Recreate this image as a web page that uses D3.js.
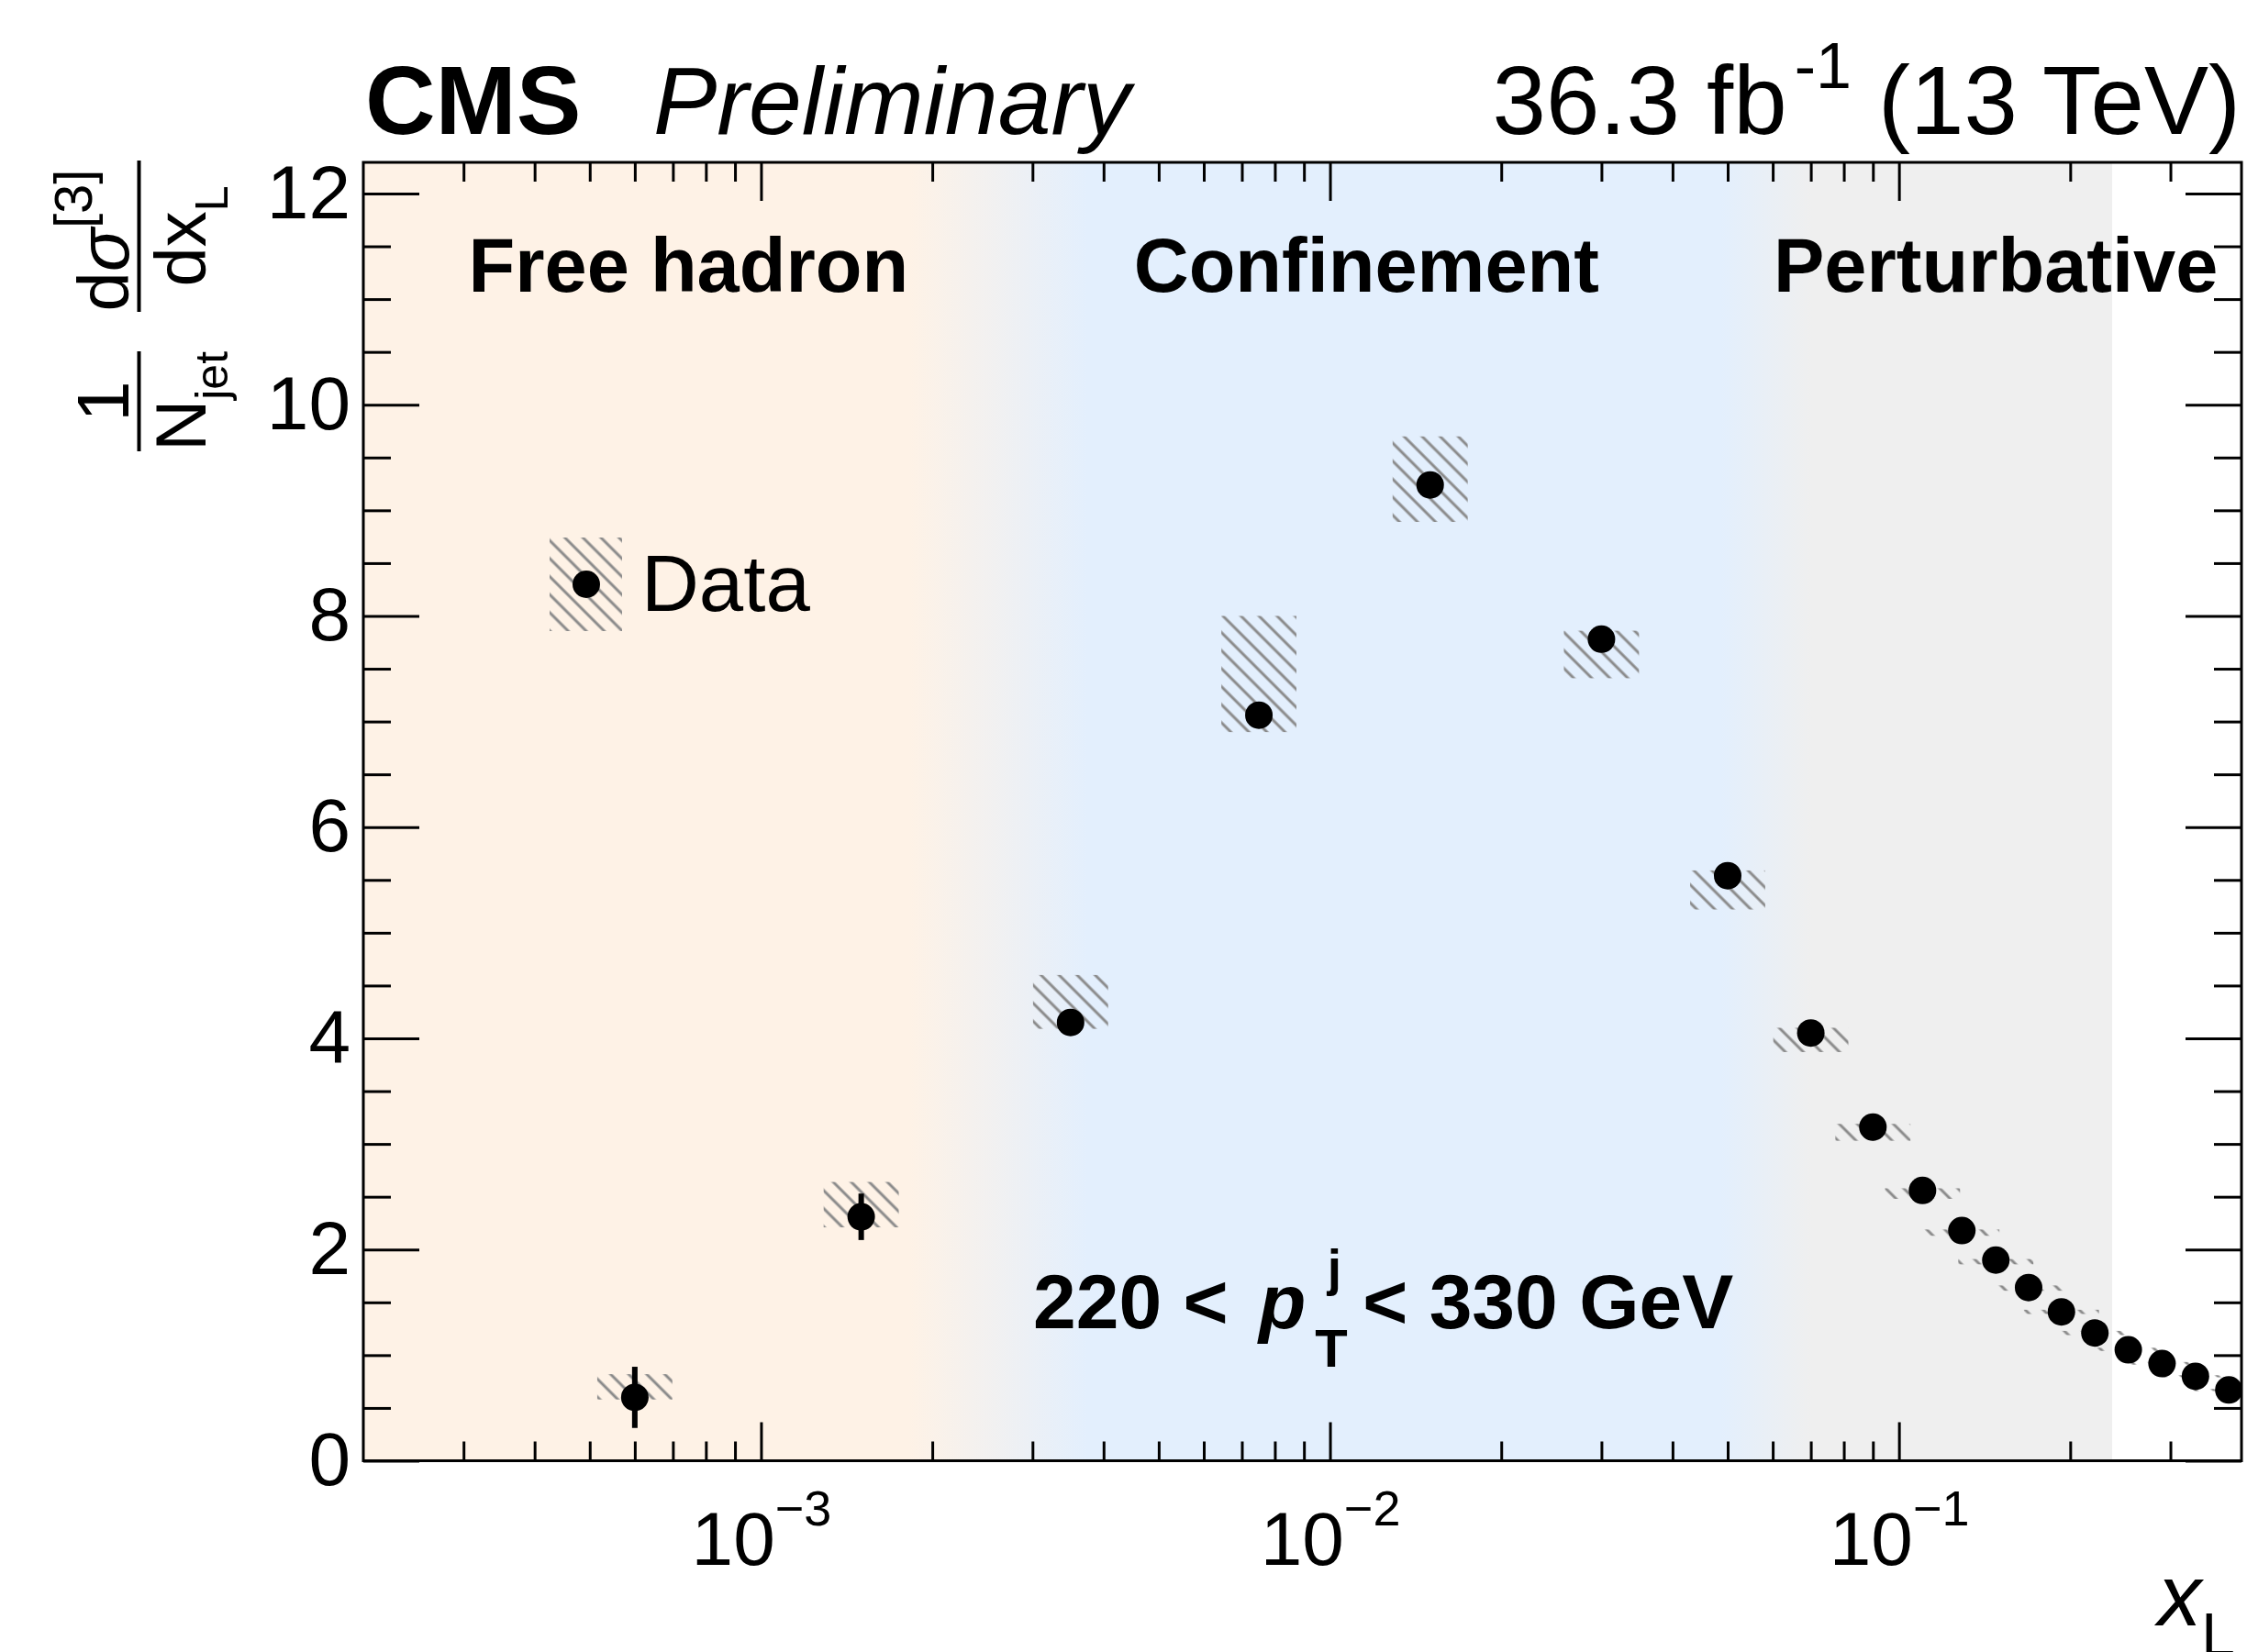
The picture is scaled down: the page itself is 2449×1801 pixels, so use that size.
<!DOCTYPE html>
<html lang="en">
<head>
<meta charset="UTF-8">
<title>CMS xL distribution</title>
<script src="https://cdn.jsdelivr.net/npm/d3@7"></script>
<style>
  body { margin: 0; background: #fff; }
  svg { display: block; font-family: "Liberation Sans", Arial, Helvetica, sans-serif; }
</style>
</head>
<body>
<div id="chart"></div>
<script>
// ---- data ----
var xL      = [6e-4, 1.5e-3, 3.5e-3, 7.5e-3, 0.015, 0.030, 0.050, 0.070, 0.090, 0.110, 0.129, 0.148, 0.169, 0.193, 0.221, 0.253, 0.290, 0.332, 0.380];
var dsigma  = [0.60, 2.31, 4.15, 7.06, 9.24, 7.78, 5.54, 4.05, 3.16, 2.56, 2.18, 1.90, 1.64, 1.41, 1.21, 1.05, 0.92, 0.80, 0.67];
var statErr = [0.29, 0.22, 0.06, 0.06, 0.06, 0.05, 0.04, 0.04, 0.03, 0.03, 0.03, 0.02, 0.02, 0.02, 0.02, 0.02, 0.02, 0.02, 0.02];
var systLo  = [0.58, 2.21, 4.09, 6.90, 8.89, 7.41, 5.22, 3.87, 3.03, 2.48, 2.13, 1.86, 1.61, 1.39, 1.19, 1.04, 0.91, 0.79, 0.66];
var systHi  = [0.82, 2.64, 4.60, 8.00, 9.70, 7.86, 5.59, 4.10, 3.19, 2.58, 2.19, 1.91, 1.66, 1.43, 1.23, 1.07, 0.935, 0.81, 0.68];

var xDomain = [2e-4, 0.4];
var yDomain = [0, 12.295];
var yMajorTicks = [0, 2, 4, 6, 8, 10, 12];
var xMajorTicks = [1e-3, 1e-2, 1e-1];
var xTickExp = ["\u22123", "\u22122", "\u22121"];

// region boundaries in xL: peach ends, blue starts, blue ends, grey starts, grey ends
var regionEdges = [1.82e-3, 3.75e-3, 0.0485, 0.0703, 0.237];
var regionNames = ["Free hadron", "Confinement", "Perturbative"];
var regionLabelX = [3.06e-4, 4.52e-3, 0.0602];

// ---- layout ----
var W = 2449, H = 1801;
var padL = 396, padR = 2443, padT = 177, padB = 1592.5;
var width = padR - padL, height = padB - padT;

var svg = d3.select("#chart").append("svg")
    .attr("width", W)
    .attr("height", H);

var x = d3.scaleLog().domain(xDomain).range([0, width]);
var y = d3.scaleLinear().domain(yDomain).range([height, 0]);

var defs = svg.append("defs");

// hatch for systematic boxes
var pat = defs.append("pattern")
    .attr("id", "hatch")
    .attr("patternUnits", "userSpaceOnUse")
    .attr("width", 13.9).attr("height", 13.9)
    .attr("patternTransform", "rotate(-45)");
pat.append("line")
    .attr("x1", 7).attr("y1", 0).attr("x2", 7).attr("y2", 13.9)
    .attr("stroke", "#8a8a8a").attr("stroke-width", 3);

var g = svg.append("g").attr("transform", "translate(" + padL + "," + padT + ")");

// background regions, one gradient
var peach = "#fef2e6", blue = "#e3effd", grey = "#efefef";
var gEnd = x(regionEdges[4]);
var grad = defs.append("linearGradient")
    .attr("id", "regions")
    .attr("gradientUnits", "userSpaceOnUse")
    .attr("x1", 0).attr("x2", gEnd).attr("y1", 0).attr("y2", 0);
var stops = [[0, peach], [x(regionEdges[0]), peach], [x(regionEdges[1]), blue],
             [x(regionEdges[2]), blue], [x(regionEdges[3]), grey], [gEnd, grey]];
stops.forEach(function (s) {
    grad.append("stop").attr("offset", s[0] / gEnd).attr("stop-color", s[1]);
});
g.append("rect")
    .attr("x", 0).attr("y", 0)
    .attr("width", gEnd).attr("height", height)
    .style("fill", "url(#regions)");

// region labels
g.selectAll(".region")
    .data(regionNames)
    .enter().append("text")
    .attr("class", "region")
    .attr("x", function (d, i) { return x(regionLabelX[i]); })
    .attr("y", y(11.07))
    .attr("font-size", 83)
    .attr("font-weight", "bold")
    .text(function (d) { return d; });

// ---- axes ----
function minorLog() {
    var v = [];
    for (var e = -4; e <= -1; e++) {
        for (var m = 2; m <= 9; m++) {
            var t = m * Math.pow(10, e);
            if (t > xDomain[0] * 1.001 && t < xDomain[1] * 0.999) v.push(t);
        }
    }
    return v;
}
var yMinor = d3.range(0.5, 12.3, 0.5).filter(function (d) { return d % 2 !== 0; });

function styleAxis(sel) {
    sel.select(".domain").remove();
    sel.selectAll(".tick line").attr("stroke", "#000").attr("stroke-width", 3);
    sel.attr("font-family", null).attr("font-size", null);
}

g.append("g").attr("transform", "translate(0," + height + ")")
    .call(d3.axisBottom(x).tickValues(minorLog()).tickSize(-21).tickFormat(""))
    .call(styleAxis);
var xMaj = g.append("g").attr("transform", "translate(0," + height + ")")
    .call(d3.axisBottom(x).tickValues(xMajorTicks).tickSize(-42).tickFormat(""))
    .call(styleAxis);
g.append("g")
    .call(d3.axisTop(x).tickValues(minorLog()).tickSize(-21).tickFormat(""))
    .call(styleAxis);
g.append("g")
    .call(d3.axisTop(x).tickValues(xMajorTicks).tickSize(-42).tickFormat(""))
    .call(styleAxis);

// x tick labels 10^n
xMaj.selectAll(".tick").each(function (d, i) {
    var t = d3.select(this).append("text")
        .attr("x", 0).attr("y", 113)
        .attr("text-anchor", "middle")
        .attr("fill", "#000")
        .attr("font-size", 82);
    t.append("tspan").text("10");
    t.append("tspan").attr("dy", -43).attr("font-size", 54).text(xTickExp[i]);
});

g.append("g")
    .call(d3.axisLeft(y).tickValues(yMinor).tickSize(-30).tickFormat(""))
    .call(styleAxis);
var yMaj = g.append("g")
    .call(d3.axisLeft(y).tickValues(yMajorTicks).tickSize(-61).tickPadding(14).tickFormat(d3.format("d")))
    .call(styleAxis);
yMaj.selectAll("text").attr("font-size", 82).attr("fill", "#000");
g.append("g").attr("transform", "translate(" + width + ",0)")
    .call(d3.axisRight(y).tickValues(yMinor).tickSize(-30).tickFormat(""))
    .call(styleAxis);
g.append("g").attr("transform", "translate(" + width + ",0)")
    .call(d3.axisRight(y).tickValues(yMajorTicks).tickSize(-61).tickFormat(""))
    .call(styleAxis);

// ---- data ----
var pts = xL.map(function (v, i) {
    return { x: v, y: dsigma[i], e: statErr[i], lo: systLo[i], hi: systHi[i] };
});
var boxHalf = 0.066; // decades

var clip = defs.append("clipPath").attr("id", "frameclip");
clip.append("rect").attr("x", 0).attr("y", 0).attr("width", width).attr("height", height);
var plot = g.append("g").attr("clip-path", "url(#frameclip)");

plot.selectAll(".syst")
    .data(pts)
    .enter().append("rect")
    .attr("class", "syst")
    .attr("x", function (d) { return x(d.x / Math.pow(10, boxHalf)); })
    .attr("width", function (d) { return x(d.x * Math.pow(10, boxHalf)) - x(d.x / Math.pow(10, boxHalf)); })
    .attr("y", function (d) { return y(d.hi); })
    .attr("height", function (d) { return y(d.lo) - y(d.hi); })
    .attr("fill", "url(#hatch)");

plot.selectAll(".err")
    .data(pts)
    .enter().append("line")
    .attr("class", "err")
    .attr("x1", function (d) { return x(d.x); })
    .attr("x2", function (d) { return x(d.x); })
    .attr("y1", function (d) { return y(d.y - d.e); })
    .attr("y2", function (d) { return y(d.y + d.e); })
    .attr("stroke", "#000")
    .attr("stroke-width", 6);

plot.selectAll(".pt")
    .data(pts)
    .enter().append("circle")
    .attr("class", "pt")
    .attr("cx", function (d) { return x(d.x); })
    .attr("cy", function (d) { return y(d.y); })
    .attr("r", 15)
    .attr("fill", "#000");

// frame
g.append("rect")
    .attr("x", 0).attr("y", 0)
    .attr("width", width).attr("height", height)
    .attr("fill", "none")
    .attr("stroke", "#000")
    .attr("stroke-width", 3);

// legend
svg.append("rect")
    .attr("x", 599).attr("y", 586).attr("width", 79).attr("height", 102)
    .attr("fill", "url(#hatch)");
svg.append("circle").attr("cx", 639).attr("cy", 637).attr("r", 15).attr("fill", "#000");
svg.append("text").attr("x", 699).attr("y", 666).attr("font-size", 87).text("Data");

// pT range label
var pt = svg.append("text")
    .attr("x", 1126).attr("y", 1448)
    .attr("font-size", 84)
    .attr("font-weight", "bold");
pt.append("tspan").text("220 < ");
pt.append("tspan").attr("font-style", "italic").attr("dx", 10).text("p");
pt.append("tspan").attr("font-size", 58).attr("dx", 10).attr("dy", 42).text("T");
pt.append("tspan").attr("font-size", 55).attr("dx", -22).attr("dy", -89).text("j");
pt.append("tspan").attr("dx", 0).attr("dy", 47).text(" < 330 GeV");

// header
svg.append("text").attr("x", 398).attr("y", 146)
    .attr("font-size", 106).attr("font-weight", "bold").text("CMS");
svg.append("text").attr("x", 712).attr("y", 146)
    .attr("font-size", 104).attr("font-style", "italic").text("Preliminary");
var lumi = svg.append("text").attr("x", 2442).attr("y", 146)
    .attr("text-anchor", "end").attr("font-size", 105);
lumi.append("tspan").text("36.3 fb");
lumi.append("tspan").attr("font-size", 70).attr("dx", 8).attr("dy", -50).text("-1");
lumi.append("tspan").attr("dy", 50).text(" (13 TeV)");

// x title
var xt = svg.append("text").attr("x", 2436).attr("y", 1772)
    .attr("text-anchor", "end").attr("font-size", 95);
xt.append("tspan").attr("font-style", "italic").text("x");
xt.append("tspan").attr("font-size", 66).attr("dy", 33).text("L");

// y title: rotated; local (lx, ly) -> screen (ly, -lx)
var yt = svg.append("g").attr("transform", "rotate(-90)");
var barX = 151.5;
yt.append("line").attr("x1", -492).attr("x2", -383).attr("y1", barX).attr("y2", barX)
    .attr("stroke", "#000").attr("stroke-width", 4);
yt.append("line").attr("x1", -340).attr("x2", -175).attr("y1", barX).attr("y2", barX)
    .attr("stroke", "#000").attr("stroke-width", 4);
yt.append("text").attr("x", -437.5).attr("y", barX - 12)
    .attr("text-anchor", "middle").attr("font-size", 80).text("1");
var den1 = yt.append("text").attr("x", -437.5).attr("y", barX + 72)
    .attr("text-anchor", "middle").attr("font-size", 78);
den1.append("tspan").text("N");
den1.append("tspan").attr("font-size", 50).attr("dy", 24).text("jet");
var num2 = yt.append("text").attr("x", -262).attr("y", barX - 12)
    .attr("text-anchor", "middle").attr("font-size", 78);
num2.append("tspan").text("d");
num2.append("tspan").attr("font-style", "italic").text("\u03c3");
num2.append("tspan").attr("font-size", 58).attr("dy", -40).text("[3]");
var den2 = yt.append("text").attr("x", -257.5).attr("y", barX + 72)
    .attr("text-anchor", "middle").attr("font-size", 78);
den2.append("tspan").text("dx");
den2.append("tspan").attr("font-size", 50).attr("dy", 24).text("L");
</script>
</body>
</html>
